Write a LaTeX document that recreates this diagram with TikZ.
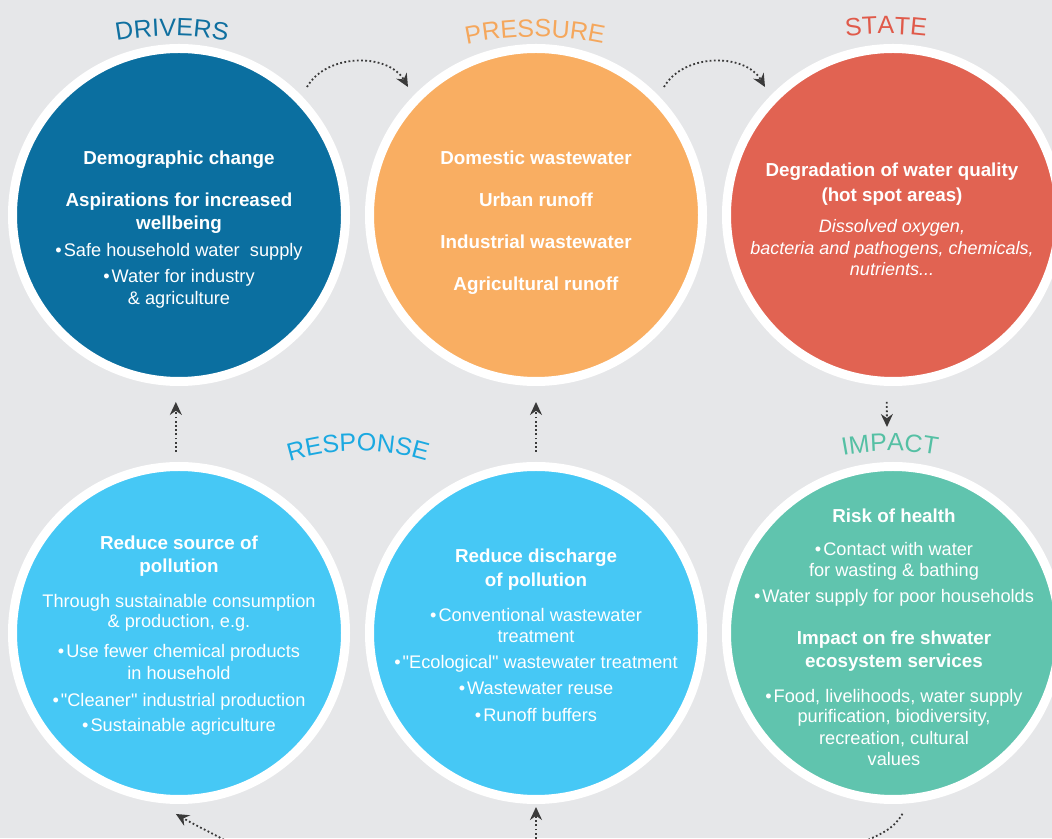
\documentclass[tikz,border=0pt]{standalone}
\usepackage{fontspec}
\setmainfont{Liberation Sans}
\usetikzlibrary{arrows.meta,decorations.text,calc}
\definecolor{bgC}{HTML}{E6E7E9}
\definecolor{drvC}{HTML}{0B6FA0}
\definecolor{prsC}{HTML}{F9AE62}
\definecolor{staC}{HTML}{E16352}
\definecolor{rspC}{HTML}{46C8F5}
\definecolor{impC}{HTML}{60C4AE}
\definecolor{drvT}{HTML}{1070A0}
\definecolor{prsT}{HTML}{F5A75C}
\definecolor{staT}{HTML}{E05A4A}
\definecolor{rspT}{HTML}{1BA9E1}
\definecolor{impT}{HTML}{55C0A4}
\definecolor{arrC}{HTML}{3A3A3A}
\newcommand\ttlfont{\fontsize{25}{30}\selectfont}
\newcommand\blt{\textbullet\hspace{2pt}}
\newcommand\qq{\textquotedbl}
\tikzset{
  circ/.style={circle, draw=white, line width=9pt, minimum size=333pt, inner sep=0pt, outer sep=14.5pt},
  bt/.style={anchor=base, text=white, inner sep=0pt, font=\fontsize{18.2}{22}\selectfont},
  bb/.style={anchor=base, text=white, inner sep=0pt, font=\fontsize{18.8}{22}\selectfont\bfseries},
  bi/.style={anchor=base, text=white, inner sep=0pt, font=\fontsize{18}{22}\selectfont\itshape},
  dotline/.style={draw=arrC, line width=1.8pt, dash pattern=on 1.8pt off 2.4pt},
  arr/.style={dotline, -{Stealth[length=13pt,width=12pt]}},
  ttl/.style={decorate, decoration={text along path, text align=center, text={#1}}}
}
\begin{document}
\begin{tikzpicture}[x=1pt,y=1pt]
\fill[bgC] (0,0) rectangle (1052,838);
\clip (0,0) rectangle (1052,838);

% circles
\node[circ, fill=drvC] (drv) at (179,623) {};
\node[circ, fill=prsC] (prs) at (536,623) {};
\node[circ, fill=staC] (sta) at (893,623) {};
\node[circ, fill=rspC] (rl) at (179,205) {};
\node[circ, fill=rspC] (rm) at (536,205) {};
\node[circ, fill=impC] (imp) at (893,205) {};

% titles
\path[ttl={|\ttlfont\color{drvT}|DRIVERS}] ($(172,502)+(110:300)$) arc[start angle=110,end angle=70,radius=300];
\path[ttl={|\ttlfont\color{prsT}|PRESSURE}] ($(535,471)+(110:330)$) arc[start angle=110,end angle=70,radius=330];
\path[ttl={|\ttlfont\color{staT}|STATE}] ($(886,474)+(105:330)$) arc[start angle=105,end angle=75,radius=330];
\path[ttl={|\ttlfont\color{rspT}|RESPONSE}] ($(358,157)+(120:230)$) arc[start angle=120,end angle=60,radius=230];
\path[ttl={|\ttlfont\color{impT}|IMPACT}] ($(890,137)+(115:250)$) arc[start angle=115,end angle=65,radius=250];

% drivers text
\node[bb] (d1) at (179,673) {Demographic change};
\node[bb] (d2) at (179,631) {Aspirations for increased};
\node[bb] (d3) at (179,608) {wellbeing};
\node[bt] (d4) at (179,581) {\blt Safe household water\ \ supply};
\node[bt] (d5) at (179,555) {\blt Water for industry};
\node[bt] (d6) at (179,533) {\& agriculture};

% pressure text
\node[bb] (p1) at (536,673) {Domestic wastewater};
\node[bb] (p2) at (536,631) {Urban runoff};
\node[bb] (p3) at (536,589) {Industrial wastewater};
\node[bb] (p4) at (536,547) {Agricultural runoff};

% state text
\node[bb] (s1) at (892,661) {Degradation of water quality};
\node[bb] (s2) at (892,636) {(hot spot areas)};
\node[bi] (s3) at (892,605) {Dissolved oxygen,};
\node[bi] (s4) at (892,583) {bacteria and pathogens, chemicals,};
\node[bi] (s5) at (892,562) {nutrients...};

% response left text
\node[bb] (r1) at (179,288) {Reduce source of};
\node[bb] (r2) at (179,265) {pollution};
\node[bt] (r3) at (179,230) {Through sustainable consumption};
\node[bt] (r4) at (179,210) {\& production, e.g.};
\node[bt] (r5) at (179,180) {\blt Use fewer chemical products};
\node[bt] (r6) at (179,158) {in household};
\node[bt] (r7) at (179,131) {\blt\qq Cleaner\qq{} industrial production};
\node[bt] (r8) at (179,106) {\blt Sustainable agriculture};

% response middle text
\node[bb] (m1) at (536,275) {Reduce discharge};
\node[bb] (m2) at (536,251) {of pollution};
\node[bt] (m3) at (536,216) {\blt Conventional wastewater};
\node[bt] (m4) at (536,195) {treatment};
\node[bt] (m5) at (536,169) {\blt\qq Ecological\qq{} wastewater treatment};
\node[bt] (m6) at (536,143) {\blt Wastewater reuse};
\node[bt] (m7) at (536,116) {\blt Runoff buffers};

% impact text
\node[bb] (i1) at (894,315) {Risk of health};
\node[bt] (i2) at (894,282) {\blt Contact with water};
\node[bt] (i3) at (894,261) {for wasting \& bathing};
\node[bt] (i4) at (894,235) {\blt Water supply for poor households};
\node[bb] (i5) at (894,193) {Impact on fre shwater};
\node[bb] (i6) at (894,170) {ecosystem services};
\node[bt] (i7) at (894,135) {\blt Food, livelihoods, water supply};
\node[bt] (i8) at (894,115) {purification, biodiversity,};
\node[bt] (i9) at (894,93) {recreation, cultural};
\node[bt] (i10) at (894,72) {values};

% connectors
\coordinate (impArr) at (887,411);
\coordinate (bmTail) at (536,-5);
\coordinate (blTail) at (235,-8);
\coordinate (brTail) at (850,-12);
\draw[arr] (drv.45) to[out=60,in=120] (prs.135);
\draw[arr] (prs.45) to[out=60,in=120] (sta.135);
\draw[arr, shorten <=6pt] (sta.-92) -- (impArr);
\draw[arr, shorten >=6pt] (rl.91) -- (drv.-91);
\draw[arr, shorten >=6pt] (rm.north) -- (prs.south);
\draw[arr, shorten >=-7pt] (bmTail) -- (rm.south);
\draw[arr] (blTail) to[out=150,in=-30] (rl.-91);
\draw[dotline] (imp.-87) to[out=-120,in=35] (brTail);
\end{tikzpicture}
\end{document}
